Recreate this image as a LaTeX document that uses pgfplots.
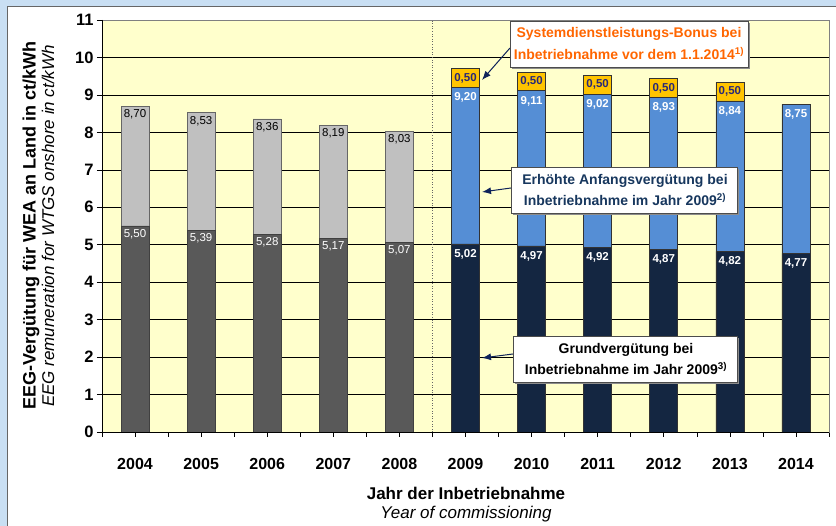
\documentclass[border=0pt]{standalone}
\usepackage{pgfplots}
\pgfplotsset{compat=1.18}
\usepackage{fontspec}
\setmainfont{Liberation Sans}
\usetikzlibrary{arrows.meta}
\definecolor{bgblue}{RGB}{201,223,243}
\definecolor{plotyellow}{RGB}{255,255,204}
\definecolor{dgray}{RGB}{89,89,89}
\definecolor{lgray}{RGB}{192,192,192}
\definecolor{navy}{RGB}{20,38,65}
\definecolor{mblue}{RGB}{85,142,213}
\definecolor{gold}{RGB}{255,196,0}
\definecolor{orangetxt}{RGB}{255,102,0}
\definecolor{bluetxt}{RGB}{23,55,94}
\definecolor{lbltxt}{RGB}{40,40,120}
\definecolor{arrowc}{RGB}{15,35,90}
\tikzset{
  lg/.style={anchor=north, inner sep=1.5pt, yshift=-2pt, font=\fontsize{11.5}{11.5}\selectfont},
  lb/.style={anchor=north, inner sep=2pt, yshift=-3pt, font=\fontsize{11.5}{11.5}\selectfont\bfseries, text=white},
  lo/.style={anchor=center, inner sep=0pt, font=\fontsize{11.5}{11.5}\selectfont\bfseries, text=lbltxt},
}
\pgfplotsset{geom/.style={at={(102pt,94pt)}, anchor=south west,
  scale only axis, width=727pt, height=412pt,
  xmin=-0.5, xmax=10.5, ymin=0, ymax=11}}
\begin{document}
\begin{tikzpicture}[x=1pt,y=1pt]
\fill[bgblue] (0,0) rectangle (836,526);
\fill[white] (7,0) rectangle (836,520);
\draw[black!60, line width=0.8pt] (7,0) -- (7,520) -- (836,520);
\begin{axis}[
  geom,
  ybar stacked, bar width=28pt,
  axis background/.style={fill=plotyellow},
  ytick={0,...,11},
  ymajorgrids, grid style={black, line width=0.5pt},
  xtick={0,...,10},
  xticklabels={2004,2005,2006,2007,2008,2009,2010,2011,2012,2013,2014},
  minor xtick={-0.5,0.5,...,10.5},
  minor tick length=5pt, major tick length=5pt,
  tick align=outside,
  xtick pos=bottom, ytick pos=left,
  axis line style={black!50},
  tick style={black, line width=0.6pt},
  /pgf/number format/assume math mode=true,
  xticklabel style={font=\fontsize{16}{16}\selectfont\bfseries, yshift=-18pt},
  yticklabel style={font=\fontsize{16.5}{16.5}\selectfont\bfseries},
  clip=false,
]
\addplot[fill=dgray, draw=black!75, line width=0.6pt] coordinates {(0,5.50)(1,5.39)(2,5.28)(3,5.17)(4,5.07)(5,0)(6,0)(7,0)(8,0)(9,0)(10,0)};
\addplot[fill=lgray, draw=black!60, line width=0.6pt] coordinates {(0,3.20)(1,3.14)(2,3.08)(3,3.02)(4,2.96)(5,0)(6,0)(7,0)(8,0)(9,0)(10,0)};
\addplot[fill=navy, draw=black!80, line width=0.6pt] coordinates {(0,0)(1,0)(2,0)(3,0)(4,0)(5,5.02)(6,4.97)(7,4.92)(8,4.87)(9,4.82)(10,4.77)};
\addplot[fill=mblue, draw=black!80, line width=0.6pt] coordinates {(0,0)(1,0)(2,0)(3,0)(4,0)(5,4.18)(6,4.14)(7,4.10)(8,4.06)(9,4.02)(10,3.98)};
\addplot[fill=gold, draw=black!80, line width=0.6pt] coordinates {(0,0)(1,0)(2,0)(3,0)(4,0)(5,0.50)(6,0.50)(7,0.50)(8,0.50)(9,0.50)(10,0)};
\draw[dotted, black!60, line width=0.6pt] (axis cs:4.5,0) -- (axis cs:4.5,11);
\end{axis}
\begin{axis}[geom, hide axis, clip=false]
\draw[black, line width=0.8pt] (rel axis cs:0,1) -- (rel axis cs:0,0) -- (rel axis cs:1,0);
\node[lg, black] at (axis cs:0,8.70) {8,70};
\node[lg, black] at (axis cs:1,8.53) {8,53};
\node[lg, black] at (axis cs:2,8.36) {8,36};
\node[lg, black] at (axis cs:3,8.19) {8,19};
\node[lg, black] at (axis cs:4,8.03) {8,03};
\node[lg, white] at (axis cs:0,5.50) {5,50};
\node[lg, white] at (axis cs:1,5.39) {5,39};
\node[lg, white] at (axis cs:2,5.28) {5,28};
\node[lg, white] at (axis cs:3,5.17) {5,17};
\node[lg, white] at (axis cs:4,5.07) {5,07};
\node[lb] at (axis cs:5,9.20) {9,20};
\node[lb] at (axis cs:6,9.11) {9,11};
\node[lb] at (axis cs:7,9.02) {9,02};
\node[lb] at (axis cs:8,8.93) {8,93};
\node[lb] at (axis cs:9,8.84) {8,84};
\node[lb] at (axis cs:10,8.75) {8,75};
\node[lb] at (axis cs:5,5.02) {5,02};
\node[lb] at (axis cs:6,4.97) {4,97};
\node[lb] at (axis cs:7,4.92) {4,92};
\node[lb] at (axis cs:8,4.87) {4,87};
\node[lb] at (axis cs:9,4.82) {4,82};
\node[lb] at (axis cs:10,4.77) {4,77};
\node[lo] at (axis cs:5,9.45) {0,50};
\node[lo] at (axis cs:6,9.36) {0,50};
\node[lo] at (axis cs:7,9.27) {0,50};
\node[lo] at (axis cs:8,9.18) {0,50};
\node[lo] at (axis cs:9,9.09) {0,50};
\end{axis}
\node[rotate=90, font=\fontsize{18}{18}\selectfont\bfseries] at (31,300) {EEG-Vergütung für WEA an Land in ct/kWh};
\node[rotate=90, font=\fontsize{17}{17}\selectfont\itshape] at (48,300) {EEG remuneration for WTGS onshore in ct/kWh};
\node[font=\fontsize{17}{17}\selectfont\bfseries] at (466,33) {Jahr der Inbetriebnahme};
\node[font=\fontsize{17}{17}\selectfont\itshape] at (466,12) {Year of commissioning};
\draw[arrowc, line width=1pt, -{Latex[length=9pt,width=7pt]}] (510,478) -- (482,446);
\draw[arrowc, line width=1pt, -{Latex[length=9pt,width=7pt]}] (511,338) -- (482,334);
\draw[arrowc, line width=1pt, -{Latex[length=9pt,width=7pt]}] (513,172) -- (482,168);
\fill[black!45] (512,457) rectangle (750,503);
\filldraw[fill=white, draw=black!70, line width=0.6pt] (510,459) rectangle (748,505);
\node[align=center, text=orangetxt, font=\fontsize{14}{22}\selectfont\bfseries] at (629,482) {Systemdienstleistungs-Bonus bei\\Inbetriebnahme vor dem 1.1.2014\textsuperscript{1)}};
\fill[black!45] (513,311) rectangle (739,357);
\filldraw[fill=white, draw=black!70, line width=0.6pt] (511,313) rectangle (737,359);
\node[align=center, text=bluetxt, font=\fontsize{14}{21}\selectfont\bfseries] at (625,336) {Erhöhte Anfangsvergütung bei\\Inbetriebnahme im Jahr 2009\textsuperscript{2)}};
\fill[black!45] (515,142) rectangle (739,188);
\filldraw[fill=white, draw=black!70, line width=0.6pt] (513,144) rectangle (737,190);
\node[align=center, text=black, font=\fontsize{14}{21}\selectfont\bfseries] at (626,167) {Grundvergütung bei\\Inbetriebnahme im Jahr 2009\textsuperscript{3)}};
\pgfresetboundingbox
\path[use as bounding box] (0,0) rectangle (836,526);
\end{tikzpicture}
\end{document}
